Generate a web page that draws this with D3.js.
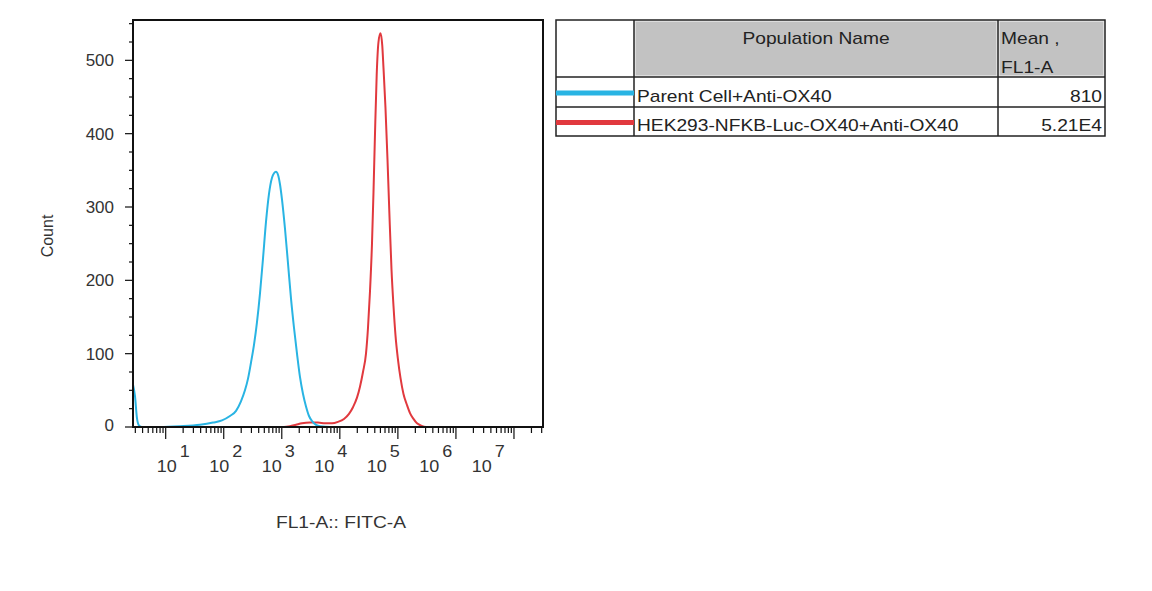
<!DOCTYPE html>
<html>
<head>
<meta charset="utf-8">
<script src="https://cdn.jsdelivr.net/npm/d3@7"></script>
<style>
  body { margin: 0; background: #fff; }
  text { font-family: "Liberation Sans", Arial, sans-serif; fill: #333; font-size: 16px; }
</style>
</head>
<body>
<div id="chart"></div>
<script>
// histogram: FL1-A value and count
const blueX = [2.73, 2.96, 3.2, 3.47, 3.91, 7.98, 17.6, 39, 65.3, 93.3, 128, 163, 198, 232, 262, 295, 332, 374,
  421, 475, 535, 602, 678, 734, 795, 860, 931, 1009, 1137, 1280, 1442, 1625, 1829, 2061, 2322, 2614, 2945,
  3318, 3890, 4560, 6776, 22280, 3.16e7];
const blueCount = [58, 42, 12, 2, 0, 0, 1, 3, 6, 9, 15, 22, 35, 50, 66, 88, 112, 143,
  182, 230, 280, 318, 340, 346, 348, 344, 331, 310, 270, 223, 175, 135, 100, 68, 45, 28, 15,
  8, 3, 1, 0, 0, 0];

const redX = [2.96, 39, 421, 1091, 1384, 1757, 2229, 3061, 4205, 5550, 7328, 9295, 11790, 14380, 16850, 19750,
  22240, 25060, 28230, 30550, 33080, 35810, 38010, 40340, 43150, 46330, 50150, 53850, 56480, 61160, 66220,
  71120, 77620, 84040, 90980, 100400, 110900, 124900, 143500, 161700, 185700, 213400, 250000, 304900, 3.16e7];
const redCount = [0, 0, 0, 0, 1, 3, 5, 6, 6, 5, 5, 7, 11, 18, 27, 40,
  55, 75, 100, 135, 185, 250, 320, 400, 480, 525, 537, 520, 490, 435, 365,
  295, 215, 165, 125, 92, 67, 45, 30, 19, 11, 5, 2, 0, 0];

const populations = ["Parent Cell+Anti-OX40", "HEK293-NFKB-Luc-OX40+Anti-OX40"];
const means = ["810", "5.21E4"];
const colours = ["#29b4e3", "#e1393e"];
const yTicks = [0, 100, 200, 300, 400, 500];
const xDecades = [1, 2, 3, 4, 5, 6, 7];

const width = 1152, height = 591;
const plotLeft = 133, plotRight = 543, plotTop = 20, plotBottom = 427;

const svg = d3.select("#chart").append("svg")
  .attr("width", width).attr("height", height);

const x = d3.scaleLog().domain([2.735, 3.162e7]).range([plotLeft, plotRight]);
const y = d3.scaleLinear().domain([0, 555]).range([plotBottom, plotTop]);
// the decade labels in the picture sit on a slightly narrower spacing than the ticks
const labelX = d3.scaleLinear().domain([1, 7]).range([166.7, 481.7]);

function stretched(g, px, py, sx, str) {
  return g.append("text")
    .attr("transform", "translate(" + px + "," + py + ") scale(" + sx + ",1)")
    .text(str);
}

svg.append("clipPath").attr("id", "plotclip")
  .append("rect").attr("x", plotLeft).attr("y", plotTop)
  .attr("width", plotRight - plotLeft).attr("height", plotBottom - plotTop);

// curves
const series = [
  { xs: blueX, ys: blueCount, colour: colours[0] },
  { xs: redX, ys: redCount, colour: colours[1] }
];
const line = d3.line()
  .x(d => x(d[0]))
  .y(d => y(d[1]))
  .curve(d3.curveMonotoneX);

svg.append("g").attr("clip-path", "url(#plotclip)")
  .selectAll("path")
  .data(series.slice().reverse())
  .join("path")
    .attr("fill", "none")
    .attr("stroke", d => d.colour)
    .attr("stroke-width", 2)
    .attr("d", d => line(d.xs.map((v, i) => [v, d.ys[i]])));

// frame
svg.append("rect")
  .attr("x", plotLeft).attr("y", plotTop)
  .attr("width", plotRight - plotLeft).attr("height", plotBottom - plotTop)
  .attr("fill", "none").attr("stroke", "#111").attr("stroke-width", 2);

// y axis ticks
const yMinor = d3.range(0, 551, 25);
svg.append("g").selectAll("line")
  .data(yMinor)
  .join("line")
    .attr("x1", d => d % 100 === 0 ? plotLeft - 8 : plotLeft - 4)
    .attr("x2", plotLeft)
    .attr("y1", d => y(d)).attr("y2", d => y(d))
    .attr("stroke", "#111").attr("stroke-width", 1.2);

const yl = svg.append("g");
yTicks.forEach(t => {
  stretched(yl, 114, y(t) + 6 - (t === 0 ? 2 : 0), 1.0, t)
    .attr("text-anchor", "end").style("font-size", "17px");
});

// x axis ticks
const xMinor = [];
for (let n = 0; n <= 7; n++) {
  for (let k = 1; k <= 9; k++) {
    const v = k * Math.pow(10, n);
    if (v >= x.domain()[0] && v <= x.domain()[1]) xMinor.push({ v: v, major: k === 1 });
  }
}
svg.append("g").selectAll("line")
  .data(xMinor)
  .join("line")
    .attr("x1", d => x(d.v)).attr("x2", d => x(d.v))
    .attr("y1", plotBottom)
    .attr("y2", d => d.major ? plotBottom + 12 : plotBottom + 6)
    .attr("stroke", "#111").attr("stroke-width", 1.2);

const xl = svg.append("g");
xDecades.forEach(e => {
  stretched(xl, labelX(e), 472, 1.06, "10").attr("text-anchor", "middle").style("font-size", "17px");
  stretched(xl, labelX(e) + 13, 457, 1.06, e).style("font-size", "17px");
});

// axis titles
stretched(svg, 341, 528, 1.2, "FL1-A:: FITC-A").attr("text-anchor", "middle");
svg.append("text")
  .attr("transform", "translate(53,236) rotate(-90)")
  .attr("text-anchor", "middle")
  .text("Count");

// legend table
const tLeft = 556, c1 = 634, c2 = 998, tRight = 1105;
const rowEdges = [20, 77, 107, 136];
const table = svg.append("g");

table.selectAll("rect.hd")
  .data([[c1, c2], [c2, tRight]])
  .join("rect")
    .attr("class", "hd")
    .attr("x", d => d[0] + 1).attr("y", rowEdges[0] + 1)
    .attr("width", d => d[1] - d[0] - 2).attr("height", rowEdges[1] - rowEdges[0] - 2)
    .attr("fill", "#c2c2c2")
    .attr("stroke", "#e6e6e6").attr("stroke-width", 1.5);

table.append("rect")
  .attr("x", tLeft).attr("y", rowEdges[0])
  .attr("width", tRight - tLeft).attr("height", rowEdges[3] - rowEdges[0])
  .attr("fill", "none").attr("stroke", "#222").attr("stroke-width", 1.5);

table.selectAll("line.row")
  .data(rowEdges.slice(1, 3))
  .join("line")
    .attr("x1", tLeft).attr("x2", tRight)
    .attr("y1", d => d).attr("y2", d => d)
    .attr("stroke", "#222").attr("stroke-width", 1.5);

table.selectAll("line.col")
  .data([c1, c2])
  .join("line")
    .attr("x1", d => d).attr("x2", d => d)
    .attr("y1", rowEdges[0]).attr("y2", rowEdges[3])
    .attr("stroke", "#222").attr("stroke-width", 1.5);

stretched(table, (c1 + c2) / 2, 44, 1.2, "Population Name").attr("text-anchor", "middle").style("fill", "#222");
stretched(table, c2 + 3, 44, 1.2, "Mean ,").style("fill", "#222");
stretched(table, c2 + 3, 73, 1.2, "FL1-A").style("fill", "#222");

populations.forEach((name, i) => {
  const r0 = rowEdges[i + 1], r1 = rowEdges[i + 2];
  const mid = (r0 + r1) / 2;
  table.append("line")
    .attr("x1", tLeft).attr("x2", c1)
    .attr("y1", mid + 1).attr("y2", mid + 1)
    .attr("stroke", colours[i]).attr("stroke-width", 5);
  stretched(table, c1 + 3, r1 - 5, 1.2, name).style("fill", "#222");
  stretched(table, tRight - 3, r1 - 5, 1.2, means[i]).attr("text-anchor", "end").style("fill", "#222");
});
</script>
</body>
</html>
